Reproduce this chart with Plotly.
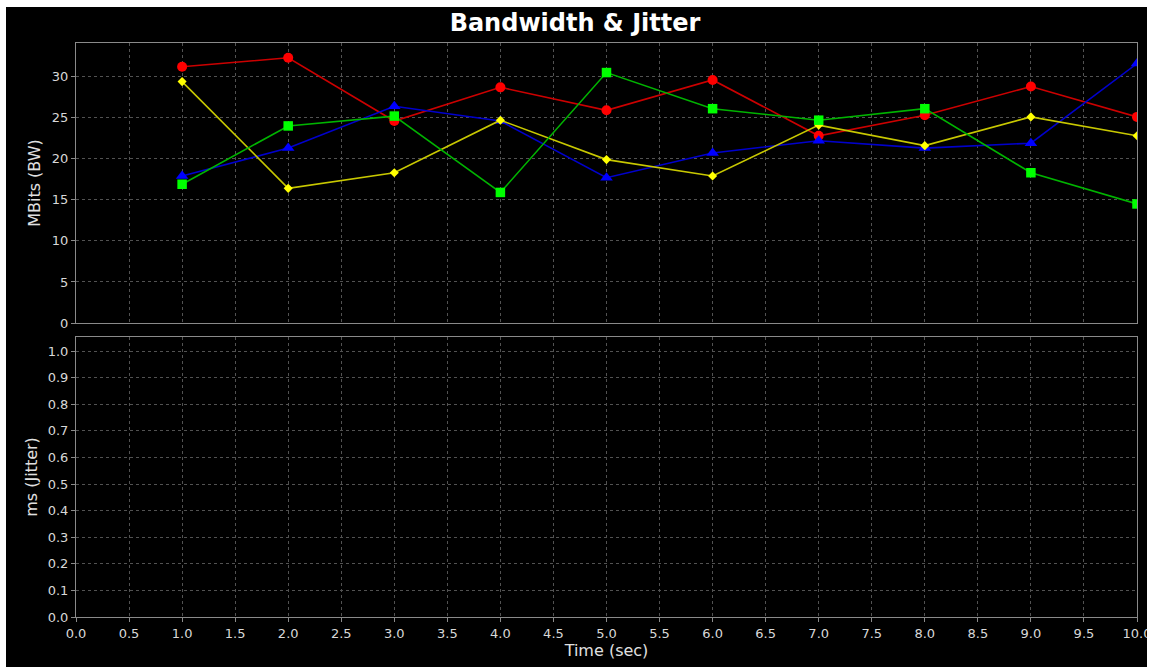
import plotly.graph_objects as go
from plotly.subplots import make_subplots

time_sec = [1, 2, 3, 4, 5, 6, 7, 8, 9, 10]
bw_red = [31.2, 32.3, 24.6, 28.7, 25.9, 29.6, 22.8, 25.3, 28.8, 25.1]
bw_blue = [17.9, 21.3, 26.4, 24.6, 17.7, 20.7, 22.2, 21.3, 21.9, 31.6]
bw_yellow = [29.4, 16.4, 18.3, 24.7, 19.9, 17.9, 24.1, 21.6, 25.1, 22.8]
bw_green = [16.9, 24.0, 25.2, 15.9, 30.5, 26.1, 24.7, 26.1, 18.3, 14.5]
jitter_ms = []  # no jitter samples shown

bw_ticks = [0, 5, 10, 15, 20, 25, 30]
jitter_ticks = [0.0, 0.1, 0.2, 0.3, 0.4, 0.5, 0.6, 0.7, 0.8, 0.9, 1.0]
time_ticks = [0.0, 0.5, 1.0, 1.5, 2.0, 2.5, 3.0, 3.5, 4.0, 4.5, 5.0,
              5.5, 6.0, 6.5, 7.0, 7.5, 8.0, 8.5, 9.0, 9.5, 10.0]

W, H = 1150, 667
L, R, T, B = 76, 13, 43, 50
ph = H - T - B

fig = make_subplots(rows=2, cols=1, shared_xaxes=False, vertical_spacing=0)

series = [
    (bw_red, "#cc0000", "#ff0000", "circle", 10),
    (bw_blue, "#0000cc", "#0000ff", "triangle-up", 11),
    (bw_yellow, "#c8c800", "#ffff00", "diamond", 7),
    (bw_green, "#00b400", "#00ff00", "square", 9.5),
]
for vals, lc, mc, sym, sz in series:
    fig.add_trace(go.Scatter(
        x=time_sec, y=vals, mode="lines+markers",
        line=dict(color=lc, width=1.6),
        marker=dict(color=mc, symbol=sym, size=sz, line=dict(width=0)),
        showlegend=False, hoverinfo="skip"), row=1, col=1)

fig.add_trace(go.Scatter(x=jitter_ms, y=jitter_ms, mode="lines",
                         showlegend=False, hoverinfo="skip"), row=2, col=1)

font_tick = dict(family="DejaVu Sans", size=13, color="#d8d8d8")
font_title = dict(family="DejaVu Sans", size=16, color="#e0e0e0")
grid = dict(showgrid=True, gridcolor="#525252", griddash="3px,3px", gridwidth=1,
            showline=True, linecolor="#8a8a8a", linewidth=1, mirror=True,
            zeroline=False, tickfont=font_tick)

top_lo = (617 - 323) / ph
bot_hi = (617 - 337) / ph

fig.update_layout(
    width=W, height=H,
    margin=dict(l=L, r=R, t=T, b=B),
    paper_bgcolor="#000000", plot_bgcolor="#000000",
    title=dict(text="<b>Bandwidth &amp; Jitter</b>", x=0.5, xanchor="center",
               y=1 - 23 / H, yanchor="middle",
               font=dict(family="DejaVu Sans", size=24, color="#ffffff")),
    xaxis=dict(domain=[0, 1], range=[0, 10], tickvals=time_ticks,
               showticklabels=False, ticks="", anchor="y", **grid),
    yaxis=dict(domain=[top_lo, 1], range=[0, 34.1], tickvals=bw_ticks,
               ticks="outside", ticklen=4, tickcolor="#8a8a8a", anchor="x",
               title=dict(text="MBits (BW)", standoff=7, font=font_title),
               **grid),
    xaxis2=dict(domain=[0, 1], range=[0, 10], tickvals=time_ticks,
                ticktext=[f"{v:.1f}" for v in time_ticks],
                ticks="outside", ticklen=4, tickcolor="#8a8a8a", anchor="y2",
                ticklabeloverflow="allow", automargin=False,
                title=dict(text="Time (sec)", standoff=2, font=font_title),
                **grid),
    yaxis2=dict(domain=[0, bot_hi], range=[0, 1.053], tickvals=jitter_ticks,
                ticktext=[f"{v:.1f}" for v in jitter_ticks],
                ticks="outside", ticklen=4, tickcolor="#8a8a8a", anchor="x2",
                title=dict(text="ms (Jitter)", standoff=6, font=font_title),
                **grid),
)

pw = W - L - R
def px_x(p):
    return (p - L) / pw
def px_y(p):
    return (H - B - p) / ph

white = dict(type="rect", xref="paper", yref="paper", fillcolor="#ffffff",
             line=dict(width=0), layer="above")
fig.add_shape(x0=px_x(0), x1=px_x(W), y0=px_y(0), y1=px_y(7), **white)
fig.add_shape(x0=px_x(0), x1=px_x(6), y0=px_y(0), y1=px_y(H), **white)
fig.add_shape(x0=px_x(1147), x1=px_x(W), y0=px_y(0), y1=px_y(H), **white)

fig.write_html("out.html")
